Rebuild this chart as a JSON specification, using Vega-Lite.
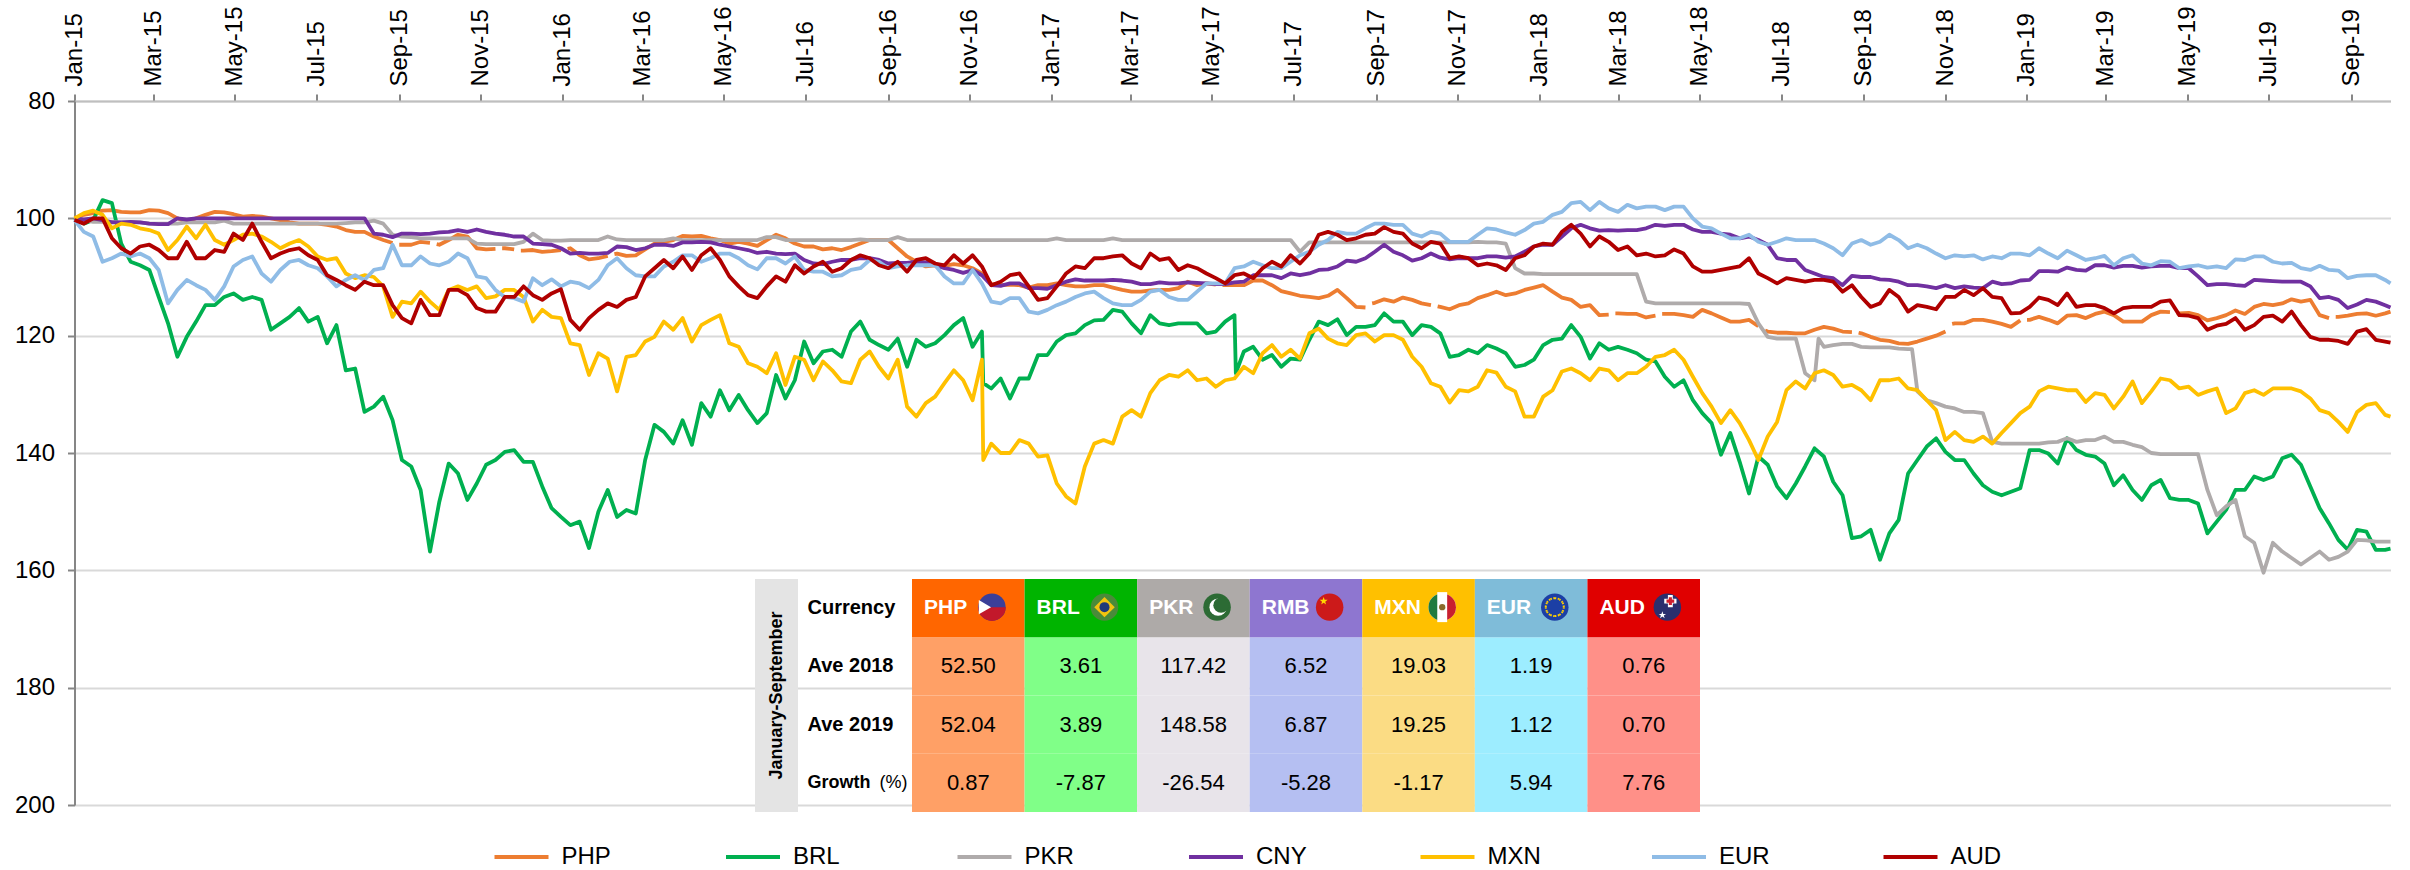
{"$schema":"https://vega.github.io/schema/vega-lite/v6.json","width":2316,"height":704,"autosize":"none","padding":{"left":74.5,"top":101,"right":19.5,"bottom":65},"background":"white","config":{"font":"Liberation Sans","view":{"stroke":null}},
"datasets":{"fx":[
{"d":"2015-01-01","PHP":100,"BRL":100,"PKR":100,"CNY":100,"MXN":100,"EUR":100.3,"AUD":100.3},
{"d":"2015-01-08","PHP":99.4,"BRL":100.9,"PKR":100.3,"CNY":100.2,"MXN":99.1,"EUR":102.3,"AUD":100.9},
{"d":"2015-01-15","PHP":99.1,"BRL":100.3,"PKR":100.6,"CNY":100,"MXN":98.7,"EUR":103.1,"AUD":100},
{"d":"2015-01-22","PHP":98.7,"BRL":96.9,"PKR":100.6,"CNY":100.3,"MXN":99.4,"EUR":107.4,"AUD":100},
{"d":"2015-01-29","PHP":98.6,"BRL":97.4,"PKR":100.6,"CNY":100.7,"MXN":101.7,"EUR":106.8,"AUD":103.4},
{"d":"2015-02-05","PHP":98.9,"BRL":104.3,"PKR":100.7,"CNY":100.7,"MXN":100.9,"EUR":106,"AUD":105.1},
{"d":"2015-02-12","PHP":99,"BRL":107.4,"PKR":100.7,"CNY":100.6,"MXN":101.1,"EUR":106.5,"AUD":106},
{"d":"2015-02-19","PHP":99,"BRL":108,"PKR":100.7,"CNY":100.7,"MXN":101.7,"EUR":106,"AUD":104.8},
{"d":"2015-02-26","PHP":98.6,"BRL":108.8,"PKR":100.9,"CNY":100.9,"MXN":102,"EUR":106.8,"AUD":104.5},
{"d":"2015-03-05","PHP":98.7,"BRL":113.4,"PKR":100.9,"CNY":101,"MXN":102.6,"EUR":108.8,"AUD":105.4},
{"d":"2015-03-12","PHP":99.1,"BRL":117.9,"PKR":100.9,"CNY":101,"MXN":105.4,"EUR":114.5,"AUD":106.8},
{"d":"2015-03-19","PHP":100,"BRL":123.6,"PKR":100.9,"CNY":100,"MXN":103.7,"EUR":112.2,"AUD":106.8},
{"d":"2015-03-26","PHP":100.6,"BRL":120.2,"PKR":100.7,"CNY":100.2,"MXN":101.4,"EUR":110.5,"AUD":104},
{"d":"2015-04-02","PHP":100,"BRL":117.6,"PKR":100.7,"CNY":100,"MXN":103.4,"EUR":111.4,"AUD":106.8},
{"d":"2015-04-09","PHP":99.4,"BRL":114.8,"PKR":100.7,"CNY":100,"MXN":101.1,"EUR":112.2,"AUD":106.8},
{"d":"2015-04-16","PHP":98.9,"BRL":114.8,"PKR":100.7,"CNY":100,"MXN":103.7,"EUR":113.9,"AUD":105.4},
{"d":"2015-04-23","PHP":99,"BRL":113.4,"PKR":100.4,"CNY":100,"MXN":104.5,"EUR":111.6,"AUD":105.7},
{"d":"2015-04-30","PHP":99.3,"BRL":112.8,"PKR":100.9,"CNY":100,"MXN":103.7,"EUR":108.2,"AUD":102.6},
{"d":"2015-05-07","PHP":99.7,"BRL":113.9,"PKR":100.9,"CNY":100,"MXN":102.8,"EUR":107.1,"AUD":103.7},
{"d":"2015-05-14","PHP":99.6,"BRL":113.4,"PKR":100.9,"CNY":100,"MXN":102.6,"EUR":106.5,"AUD":100.9},
{"d":"2015-05-21","PHP":99.7,"BRL":113.9,"PKR":100.9,"CNY":100,"MXN":103.1,"EUR":109.4,"AUD":104},
{"d":"2015-05-28","PHP":100,"BRL":119,"PKR":100.9,"CNY":100,"MXN":104,"EUR":110.8,"AUD":106.8},
{"d":"2015-06-04","PHP":100.3,"BRL":117.9,"PKR":100.9,"CNY":100,"MXN":105.1,"EUR":108.8,"AUD":106},
{"d":"2015-06-11","PHP":100.7,"BRL":116.8,"PKR":100.9,"CNY":100,"MXN":104.3,"EUR":107.4,"AUD":105.4},
{"d":"2015-06-18","PHP":100.9,"BRL":115.3,"PKR":100.9,"CNY":100,"MXN":103.7,"EUR":107.1,"AUD":105.1},
{"d":"2015-06-25","PHP":100.9,"BRL":117.6,"PKR":100.9,"CNY":100,"MXN":104.8,"EUR":108,"AUD":106.3},
{"d":"2015-07-02","PHP":100.9,"BRL":116.8,"PKR":100.9,"CNY":100,"MXN":106.5,"EUR":108.5,"AUD":107.1},
{"d":"2015-07-09","PHP":101.1,"BRL":121.3,"PKR":100.9,"CNY":100,"MXN":107.1,"EUR":109.9,"AUD":109.7},
{"d":"2015-07-16","PHP":101.4,"BRL":118.2,"PKR":100.9,"CNY":100,"MXN":106.8,"EUR":111.6,"AUD":110.5},
{"d":"2015-07-23","PHP":102,"BRL":125.9,"PKR":100.8,"CNY":100,"MXN":109.4,"EUR":110.5,"AUD":111.4},
{"d":"2015-07-30","PHP":102.3,"BRL":125.6,"PKR":100.7,"CNY":100,"MXN":110.2,"EUR":109.7,"AUD":112.2},
{"d":"2015-08-06","PHP":102.3,"BRL":133,"PKR":100.7,"CNY":100,"MXN":109.7,"EUR":110.5,"AUD":110.8},
{"d":"2015-08-13","PHP":103.1,"BRL":132.1,"PKR":100.4,"CNY":102.6,"MXN":110,"EUR":108.8,"AUD":111.4},
{"d":"2015-08-20","PHP":103.7,"BRL":130.4,"PKR":100.9,"CNY":102.8,"MXN":111.6,"EUR":108.5,"AUD":111.4},
{"d":"2015-08-27","PHP":104.2,"BRL":134.4,"PKR":102.8,"CNY":103.2,"MXN":116.8,"EUR":104.5,"AUD":114.8},
{"d":"2015-08-30","PHP":null},{"d":"2015-09-01","PHP":104.5},
{"d":"2015-09-03","PHP":104.5,"BRL":141.2,"PKR":103.1,"CNY":102.6,"MXN":114.2,"EUR":108,"AUD":117},
{"d":"2015-09-10","PHP":104.5,"BRL":142.3,"PKR":103.2,"CNY":102.6,"MXN":114.5,"EUR":108,"AUD":117.9},
{"d":"2015-09-17","PHP":104,"BRL":146.3,"PKR":103.4,"CNY":102.7,"MXN":112.5,"EUR":106.5,"AUD":113.9},
{"d":"2015-09-24","PHP":104.2,"BRL":156.8,"PKR":103.4,"CNY":102.6,"MXN":114.2,"EUR":107.7,"AUD":116.5},
{"d":"2015-09-27","PHP":null},{"d":"2015-09-29","PHP":104.4},
{"d":"2015-10-01","PHP":104.5,"BRL":148.3,"PKR":103.4,"CNY":102.4,"MXN":115.6,"EUR":108,"AUD":116.5},
{"d":"2015-10-08","PHP":103.7,"BRL":141.8,"PKR":103.4,"CNY":102.3,"MXN":112.2,"EUR":107.4,"AUD":112.2},
{"d":"2015-10-15","PHP":102.8,"BRL":143.5,"PKR":103.4,"CNY":102,"MXN":111.6,"EUR":106,"AUD":112.2},
{"d":"2015-10-22","PHP":103.1,"BRL":148,"PKR":103.4,"CNY":102.3,"MXN":112.2,"EUR":106.8,"AUD":113.1},
{"d":"2015-10-29","PHP":105.1,"BRL":145.2,"PKR":104.3,"CNY":101.9,"MXN":111.6,"EUR":109.9,"AUD":115.3},
{"d":"2015-11-05","PHP":105.3,"BRL":142,"PKR":104.4,"CNY":102.3,"MXN":113.6,"EUR":110.2,"AUD":115.9},
{"d":"2015-11-12","PHP":105.2,"BRL":141.2,"PKR":104.4,"CNY":102.6,"MXN":113.3,"EUR":112.2,"AUD":115.9},
{"d":"2015-11-15","PHP":null},{"d":"2015-11-17","PHP":105.1},
{"d":"2015-11-19","PHP":105.1,"BRL":139.8,"PKR":104.4,"CNY":102.8,"MXN":112.2,"EUR":113.4,"AUD":113.4},
{"d":"2015-11-26","PHP":105.3,"BRL":139.5,"PKR":104.4,"CNY":103.1,"MXN":112.2,"EUR":113.6,"AUD":113.4},
{"d":"2015-11-29","PHP":null},{"d":"2015-12-01","PHP":105.5},
{"d":"2015-12-03","PHP":105.5,"BRL":141.5,"PKR":104,"CNY":103.1,"MXN":113.4,"EUR":114.2,"AUD":111.6},
{"d":"2015-12-10","PHP":105.4,"BRL":141.5,"PKR":102.6,"CNY":104.3,"MXN":117.6,"EUR":110.2,"AUD":113.1},
{"d":"2015-12-17","PHP":105.7,"BRL":145.7,"PKR":103.7,"CNY":104.4,"MXN":115.6,"EUR":111.4,"AUD":113.9},
{"d":"2015-12-24","PHP":105.6,"BRL":149.4,"PKR":103.8,"CNY":104.5,"MXN":116.8,"EUR":110.4,"AUD":112.8},
{"d":"2015-12-31","PHP":105.4,"BRL":150.9,"PKR":103.8,"CNY":105.1,"MXN":117,"EUR":111.6,"AUD":112.1},
{"d":"2016-01-03","PHP":null},{"d":"2016-01-05","PHP":105.2},
{"d":"2016-01-07","PHP":105.1,"BRL":152.3,"PKR":103.7,"CNY":106,"MXN":121.3,"EUR":110.8,"AUD":117.3},
{"d":"2016-01-14","PHP":106.3,"BRL":151.7,"PKR":103.7,"CNY":105.9,"MXN":121.6,"EUR":111.1,"AUD":119},
{"d":"2016-01-21","PHP":107,"BRL":156.2,"PKR":103.7,"CNY":106,"MXN":126.7,"EUR":111.9,"AUD":117},
{"d":"2016-01-28","PHP":106.8,"BRL":150,"PKR":103.7,"CNY":106,"MXN":123,"EUR":110.5,"AUD":115.6},
{"d":"2016-02-04","PHP":106.4,"BRL":146.3,"PKR":103.1,"CNY":105.9,"MXN":123.9,"EUR":108,"AUD":114.5},
{"d":"2016-02-07","PHP":null},{"d":"2016-02-09","PHP":106.1},
{"d":"2016-02-11","PHP":106,"BRL":150.9,"PKR":103.6,"CNY":104.8,"MXN":129.5,"EUR":106.8,"AUD":115.1},
{"d":"2016-02-18","PHP":106.4,"BRL":149.7,"PKR":103.7,"CNY":104.9,"MXN":123.6,"EUR":108.5,"AUD":113.9},
{"d":"2016-02-25","PHP":106.3,"BRL":150.3,"PKR":103.7,"CNY":105.4,"MXN":123.3,"EUR":109.7,"AUD":113.4},
{"d":"2016-03-03","PHP":105.3,"BRL":141.2,"PKR":103.7,"CNY":105.1,"MXN":121,"EUR":109.9,"AUD":109.9},
{"d":"2016-03-10","PHP":104.3,"BRL":135.2,"PKR":103.7,"CNY":104.5,"MXN":120.2,"EUR":109.9,"AUD":108.5},
{"d":"2016-03-17","PHP":104,"BRL":136.4,"PKR":103.7,"CNY":104.5,"MXN":117.6,"EUR":108.2,"AUD":107.1},
{"d":"2016-03-24","PHP":103.7,"BRL":138.4,"PKR":103.4,"CNY":104.7,"MXN":119,"EUR":107.4,"AUD":108.5},
{"d":"2016-03-31","PHP":103,"BRL":134.4,"PKR":103.7,"CNY":104.1,"MXN":117,"EUR":106.3,"AUD":106.5},
{"d":"2016-04-07","PHP":103.1,"BRL":138.6,"PKR":103.7,"CNY":104.1,"MXN":121,"EUR":106.3,"AUD":108.8},
{"d":"2016-04-14","PHP":103,"BRL":131.5,"PKR":103.7,"CNY":104,"MXN":118.2,"EUR":107.4,"AUD":106.3},
{"d":"2016-04-21","PHP":103.4,"BRL":133.8,"PKR":103.7,"CNY":104.1,"MXN":117.3,"EUR":106.8,"AUD":105.1},
{"d":"2016-04-28","PHP":103.7,"BRL":129.3,"PKR":103.7,"CNY":104.5,"MXN":116.5,"EUR":106,"AUD":107.1},
{"d":"2016-05-05","PHP":104.3,"BRL":132.7,"PKR":103.7,"CNY":104.8,"MXN":121.3,"EUR":106,"AUD":109.9},
{"d":"2016-05-12","PHP":104,"BRL":130.1,"PKR":103.7,"CNY":105.1,"MXN":121.9,"EUR":106.8,"AUD":111.6},
{"d":"2016-05-19","PHP":104.3,"BRL":132.7,"PKR":103.7,"CNY":105.4,"MXN":124.7,"EUR":108,"AUD":113.1},
{"d":"2016-05-26","PHP":104.7,"BRL":134.9,"PKR":103.7,"CNY":105.9,"MXN":125.3,"EUR":108.7,"AUD":113.6},
{"d":"2016-06-02","PHP":103.7,"BRL":133.2,"PKR":103.2,"CNY":105.7,"MXN":126.4,"EUR":106.8,"AUD":111.6},
{"d":"2016-06-09","PHP":102.8,"BRL":126.7,"PKR":103.2,"CNY":106,"MXN":123,"EUR":106.8,"AUD":109.9},
{"d":"2016-06-16","PHP":103.4,"BRL":130.7,"PKR":103.7,"CNY":106.1,"MXN":128.4,"EUR":107.7,"AUD":110.8},
{"d":"2016-06-23","PHP":104.3,"BRL":127.6,"PKR":103.7,"CNY":106,"MXN":123.6,"EUR":106.5,"AUD":108},
{"d":"2016-06-30","PHP":104.8,"BRL":121,"PKR":103.7,"CNY":107.1,"MXN":124.1,"EUR":108.8,"AUD":109.4},
{"d":"2016-07-07","PHP":104.8,"BRL":124.7,"PKR":103.7,"CNY":107.7,"MXN":127.6,"EUR":109.1,"AUD":108.2},
{"d":"2016-07-14","PHP":105.3,"BRL":122.7,"PKR":103.7,"CNY":107.8,"MXN":124.4,"EUR":109.1,"AUD":107.4},
{"d":"2016-07-21","PHP":105.1,"BRL":122.4,"PKR":103.7,"CNY":107.4,"MXN":125.9,"EUR":109.9,"AUD":109.1},
{"d":"2016-07-28","PHP":105.4,"BRL":123.6,"PKR":103.7,"CNY":107.1,"MXN":127.8,"EUR":109.7,"AUD":108.5},
{"d":"2016-08-04","PHP":104.9,"BRL":119.3,"PKR":103.7,"CNY":107.1,"MXN":128.1,"EUR":108.8,"AUD":107.1},
{"d":"2016-08-11","PHP":104.3,"BRL":117.6,"PKR":103.6,"CNY":106.8,"MXN":124.1,"EUR":108.5,"AUD":106.3},
{"d":"2016-08-18","PHP":103.7,"BRL":120.7,"PKR":103.7,"CNY":106.8,"MXN":122.7,"EUR":107.1,"AUD":106.8},
{"d":"2016-08-25","PHP":103.7,"BRL":121.6,"PKR":103.7,"CNY":107.1,"MXN":125.3,"EUR":107.4,"AUD":108},
{"d":"2016-09-01","PHP":103.7,"BRL":122.4,"PKR":103.7,"CNY":107.7,"MXN":127.3,"EUR":108.5,"AUD":108.5},
{"d":"2016-09-08","PHP":105.1,"BRL":120.5,"PKR":103.2,"CNY":107.6,"MXN":124.1,"EUR":108.2,"AUD":107.4},
{"d":"2016-09-15","PHP":106.5,"BRL":125.3,"PKR":103.7,"CNY":107.6,"MXN":132.1,"EUR":108,"AUD":109.1},
{"d":"2016-09-22","PHP":107.4,"BRL":120.7,"PKR":103.7,"CNY":107.4,"MXN":133.8,"EUR":108,"AUD":107.1},
{"d":"2016-09-29","PHP":108.2,"BRL":121.9,"PKR":103.7,"CNY":107.5,"MXN":131.5,"EUR":108,"AUD":106.8},
{"d":"2016-10-06","PHP":108,"BRL":121.3,"PKR":103.7,"CNY":108,"MXN":130.4,"EUR":108,"AUD":107.7},
{"d":"2016-10-13","PHP":108.1,"BRL":119.9,"PKR":103.7,"CNY":108.5,"MXN":128.1,"EUR":109.9,"AUD":108},
{"d":"2016-10-20","PHP":107.8,"BRL":118.2,"PKR":103.7,"CNY":108.8,"MXN":125.9,"EUR":111.1,"AUD":106.3},
{"d":"2016-10-27","PHP":108,"BRL":117,"PKR":103.7,"CNY":109.3,"MXN":127.6,"EUR":111.1,"AUD":107.7},
{"d":"2016-11-03","PHP":108.5,"BRL":121.9,"PKR":103.7,"CNY":108.8,"MXN":131,"EUR":108.8,"AUD":106.3},
{"d":"2016-11-10","PHP":109.4,"BRL":119.3,"PKR":103.7,"CNY":109.7,"MXN":124.1,"EUR":111.1,"AUD":108.2},
{"d":"2016-11-11","BRL":128.1,"MXN":141.2},
{"d":"2016-11-17","PHP":111.2,"BRL":129,"PKR":103.7,"CNY":111.4,"MXN":138.4,"EUR":114.2,"AUD":111.4},
{"d":"2016-11-24","PHP":111.4,"BRL":127.3,"PKR":103.7,"CNY":111.5,"MXN":140,"EUR":114.5,"AUD":110.8},
{"d":"2016-12-01","PHP":111.3,"BRL":130.7,"PKR":103.7,"CNY":111.1,"MXN":140,"EUR":113.6,"AUD":109.7},
{"d":"2016-12-08","PHP":111.4,"BRL":127.3,"PKR":103.7,"CNY":111.1,"MXN":137.8,"EUR":113.6,"AUD":109.4},
{"d":"2016-12-15","PHP":111.8,"BRL":127.3,"PKR":103.7,"CNY":111.9,"MXN":138.4,"EUR":115.9,"AUD":111.6},
{"d":"2016-12-22","PHP":111.4,"BRL":123.3,"PKR":103.7,"CNY":111.9,"MXN":140.6,"EUR":116.2,"AUD":113.9},
{"d":"2016-12-29","PHP":111.4,"BRL":123.3,"PKR":103.7,"CNY":112,"MXN":140.4,"EUR":115.6,"AUD":113.6},
{"d":"2017-01-05","PHP":111.1,"BRL":121,"PKR":103.4,"CNY":111.4,"MXN":145.2,"EUR":114.8,"AUD":111.6},
{"d":"2017-01-12","PHP":111.4,"BRL":119.9,"PKR":103.7,"CNY":110.8,"MXN":147.4,"EUR":114.2,"AUD":109.4},
{"d":"2017-01-19","PHP":111.6,"BRL":119.6,"PKR":103.7,"CNY":110.4,"MXN":148.6,"EUR":113.4,"AUD":108.2},
{"d":"2017-01-26","PHP":111.6,"BRL":118.2,"PKR":103.7,"CNY":110.6,"MXN":142.3,"EUR":112.8,"AUD":108.5},
{"d":"2017-02-02","PHP":111.4,"BRL":117.4,"PKR":103.7,"CNY":110.6,"MXN":138.4,"EUR":112.5,"AUD":106.8},
{"d":"2017-02-09","PHP":111.4,"BRL":117.3,"PKR":103.7,"CNY":110.6,"MXN":137.8,"EUR":113.6,"AUD":106.8},
{"d":"2017-02-16","PHP":111.8,"BRL":115.6,"PKR":103.4,"CNY":110.5,"MXN":138.4,"EUR":114.5,"AUD":106.5},
{"d":"2017-02-23","PHP":112.2,"BRL":115.9,"PKR":103.7,"CNY":110.6,"MXN":133.8,"EUR":114.8,"AUD":106.3},
{"d":"2017-03-02","PHP":112.5,"BRL":117.9,"PKR":103.7,"CNY":110.8,"MXN":132.7,"EUR":114.8,"AUD":107.7},
{"d":"2017-03-09","PHP":112.5,"BRL":119.6,"PKR":103.7,"CNY":111.2,"MXN":133.8,"EUR":113.9,"AUD":108.5},
{"d":"2017-03-16","PHP":112.3,"BRL":116.5,"PKR":103.7,"CNY":111.2,"MXN":129.8,"EUR":112.5,"AUD":106},
{"d":"2017-03-23","PHP":112.2,"BRL":117.9,"PKR":103.7,"CNY":110.9,"MXN":127.6,"EUR":112.2,"AUD":107.1},
{"d":"2017-03-30","PHP":112.2,"BRL":118.2,"PKR":103.7,"CNY":111.1,"MXN":126.7,"EUR":113.4,"AUD":106.8},
{"d":"2017-04-06","PHP":111.9,"BRL":117.9,"PKR":103.7,"CNY":111.1,"MXN":127,"EUR":113.9,"AUD":108.8},
{"d":"2017-04-13","PHP":110.8,"BRL":117.9,"PKR":103.7,"CNY":110.9,"MXN":125.9,"EUR":113.9,"AUD":108},
{"d":"2017-04-20","PHP":111.4,"BRL":117.9,"PKR":103.7,"CNY":111,"MXN":127.6,"EUR":112.5,"AUD":108.5},
{"d":"2017-04-27","PHP":111.1,"BRL":119.6,"PKR":103.7,"CNY":111.1,"MXN":127.3,"EUR":111.1,"AUD":109.4},
{"d":"2017-05-04","PHP":111.3,"BRL":119.3,"PKR":103.7,"CNY":111.2,"MXN":128.7,"EUR":111.1,"AUD":110.2},
{"d":"2017-05-07","PHP":null},{"d":"2017-05-09","PHP":111.4},
{"d":"2017-05-11","PHP":111.4,"BRL":117.6,"PKR":103.7,"CNY":111.2,"MXN":127.6,"EUR":111.1,"AUD":111.1},
{"d":"2017-05-18","PHP":111.4,"BRL":116.5,"PKR":103.7,"CNY":110.9,"MXN":127.3,"EUR":108.5,"AUD":109.7},
{"d":"2017-05-19","BRL":126.4},
{"d":"2017-05-25","PHP":111.4,"BRL":122.7,"PKR":103.7,"CNY":110.8,"MXN":125.3,"EUR":108.2,"AUD":109.4},
{"d":"2017-06-01","PHP":110.6,"BRL":121.9,"PKR":103.7,"CNY":109.7,"MXN":126.4,"EUR":107.4,"AUD":110.2},
{"d":"2017-06-08","PHP":110.6,"BRL":124.1,"PKR":103.7,"CNY":109.7,"MXN":123,"EUR":108,"AUD":108.5},
{"d":"2017-06-15","PHP":111.4,"BRL":123.3,"PKR":103.7,"CNY":109.7,"MXN":121.6,"EUR":108.5,"AUD":107.4},
{"d":"2017-06-22","PHP":112.4,"BRL":125.3,"PKR":103.7,"CNY":110.2,"MXN":123.6,"EUR":108.5,"AUD":108.2},
{"d":"2017-06-29","PHP":112.8,"BRL":123.9,"PKR":103.7,"CNY":109.4,"MXN":122.4,"EUR":107.4,"AUD":106.3},
{"d":"2017-07-06","PHP":113.2,"BRL":124.1,"PKR":105.7,"CNY":109.7,"MXN":123.9,"EUR":106.3,"AUD":107.7},
{"d":"2017-07-13","PHP":113.4,"BRL":120.7,"PKR":104.1,"CNY":109.4,"MXN":119.6,"EUR":105.7,"AUD":106},
{"d":"2017-07-20","PHP":113.6,"BRL":117.6,"PKR":104.1,"CNY":108.8,"MXN":118.8,"EUR":104.5,"AUD":102.8},
{"d":"2017-07-27","PHP":113.2,"BRL":118.2,"PKR":104.1,"CNY":108.7,"MXN":120.5,"EUR":103.7,"AUD":102.3},
{"d":"2017-08-03","PHP":112.2,"BRL":117.2,"PKR":104.1,"CNY":108.2,"MXN":121.3,"EUR":102.3,"AUD":102.8},
{"d":"2017-08-10","PHP":113.6,"BRL":119.9,"PKR":104.1,"CNY":107.2,"MXN":121.6,"EUR":102.6,"AUD":103.7},
{"d":"2017-08-17","PHP":115.1,"BRL":118.5,"PKR":104.1,"CNY":107.4,"MXN":119.9,"EUR":102.6,"AUD":103.4},
{"d":"2017-08-24","PHP":115.2,"BRL":118.5,"PKR":104.1,"CNY":106.8,"MXN":119.6,"EUR":101.7,"AUD":102.8},
{"d":"2017-08-27","PHP":null},{"d":"2017-08-29","PHP":114.5},
{"d":"2017-08-31","PHP":114.4,"BRL":118.2,"PKR":104.1,"CNY":105.7,"MXN":121,"EUR":100.9,"AUD":102.6},
{"d":"2017-09-07","PHP":113.8,"BRL":116.2,"PKR":104.1,"CNY":104.5,"MXN":119.9,"EUR":100.9,"AUD":101.5},
{"d":"2017-09-14","PHP":114.2,"BRL":117.6,"PKR":104.1,"CNY":105.7,"MXN":119.9,"EUR":101.1,"AUD":102.3},
{"d":"2017-09-21","PHP":113.5,"BRL":117.6,"PKR":104.1,"CNY":106.3,"MXN":120.7,"EUR":101.1,"AUD":102.6},
{"d":"2017-09-28","PHP":113.9,"BRL":119.9,"PKR":104.1,"CNY":107.2,"MXN":123.6,"EUR":102.6,"AUD":104.3},
{"d":"2017-10-05","PHP":114.5,"BRL":118.2,"PKR":104.1,"CNY":106.8,"MXN":125.3,"EUR":103.1,"AUD":105.1},
{"d":"2017-10-12","PHP":114.8,"BRL":118.5,"PKR":104.1,"CNY":106,"MXN":128.1,"EUR":102.3,"AUD":104},
{"d":"2017-10-15","PHP":null},{"d":"2017-10-17","PHP":115},
{"d":"2017-10-19","PHP":115.1,"BRL":119.6,"PKR":104.1,"CNY":106.7,"MXN":128.7,"EUR":102.6,"AUD":104.3},
{"d":"2017-10-26","PHP":115.5,"BRL":123.6,"PKR":104.1,"CNY":107,"MXN":131.4,"EUR":104,"AUD":106.8},
{"d":"2017-11-02","PHP":114.8,"BRL":123.3,"PKR":104.1,"CNY":106.8,"MXN":129.3,"EUR":104,"AUD":106.5},
{"d":"2017-11-09","PHP":114.5,"BRL":122.4,"PKR":104.1,"CNY":106.8,"MXN":129.5,"EUR":104,"AUD":106.8},
{"d":"2017-11-16","PHP":113.6,"BRL":123,"PKR":104,"CNY":106.8,"MXN":128.7,"EUR":102.8,"AUD":108},
{"d":"2017-11-23","PHP":113.1,"BRL":121.6,"PKR":104.1,"CNY":106.5,"MXN":125.9,"EUR":101.7,"AUD":107.7},
{"d":"2017-11-30","PHP":112.5,"BRL":122.2,"PKR":104.1,"CNY":106.5,"MXN":126.3,"EUR":101.9,"AUD":108},
{"d":"2017-12-07","PHP":113.1,"BRL":123,"PKR":104.3,"CNY":106.7,"MXN":128.7,"EUR":102.4,"AUD":108.8},
{"d":"2017-12-14","PHP":112.8,"BRL":125.3,"PKR":108.5,"CNY":106.5,"MXN":129.5,"EUR":102.8,"AUD":106.8},
{"d":"2017-12-21","PHP":112.2,"BRL":125,"PKR":109.4,"CNY":105.7,"MXN":133.8,"EUR":102,"AUD":106.3},
{"d":"2017-12-28","PHP":111.8,"BRL":124.1,"PKR":109.4,"CNY":104.8,"MXN":133.8,"EUR":100.9,"AUD":104.8},
{"d":"2018-01-04","PHP":111.4,"BRL":121.6,"PKR":109.5,"CNY":104.5,"MXN":130.4,"EUR":100.6,"AUD":104.3},
{"d":"2018-01-11","PHP":112.5,"BRL":120.7,"PKR":109.5,"CNY":104.5,"MXN":129.3,"EUR":99.4,"AUD":104.5},
{"d":"2018-01-18","PHP":113.5,"BRL":120.5,"PKR":109.5,"CNY":103.1,"MXN":126.1,"EUR":98.9,"AUD":102.3},
{"d":"2018-01-25","PHP":113.9,"BRL":118.2,"PKR":109.5,"CNY":101.7,"MXN":125.6,"EUR":97.4,"AUD":101.1},
{"d":"2018-02-01","PHP":115.1,"BRL":120.2,"PKR":109.5,"CNY":101.1,"MXN":126.4,"EUR":97.2,"AUD":102.6},
{"d":"2018-02-08","PHP":114.8,"BRL":123.9,"PKR":109.5,"CNY":101.7,"MXN":127.6,"EUR":98.6,"AUD":104.8},
{"d":"2018-02-15","PHP":116.5,"BRL":121.3,"PKR":109.5,"CNY":102.1,"MXN":125.6,"EUR":97.2,"AUD":103.1},
{"d":"2018-02-22","PHP":116.4,"BRL":122.4,"PKR":109.5,"CNY":102,"MXN":125.9,"EUR":98.3,"AUD":104},
{"d":"2018-02-25","PHP":null},{"d":"2018-02-27","PHP":116.2},
{"d":"2018-03-01","PHP":116.2,"BRL":121.9,"PKR":109.5,"CNY":102.1,"MXN":127.6,"EUR":98.9,"AUD":105.4},
{"d":"2018-03-08","PHP":116.3,"BRL":122.4,"PKR":109.5,"CNY":102,"MXN":126.4,"EUR":97.7,"AUD":104.8},
{"d":"2018-03-15","PHP":116.3,"BRL":123,"PKR":109.5,"CNY":102,"MXN":126.4,"EUR":98.3,"AUD":106.3},
{"d":"2018-03-22","PHP":116.9,"BRL":124.1,"PKR":114.2,"CNY":101.7,"MXN":125.3,"EUR":98,"AUD":106},
{"d":"2018-03-29","PHP":116.6,"BRL":124.4,"PKR":114.5,"CNY":101.1,"MXN":123.6,"EUR":98,"AUD":106.5},
{"d":"2018-04-01","PHP":null},{"d":"2018-04-03","PHP":116.3},
{"d":"2018-04-05","PHP":116.3,"BRL":127,"PKR":114.5,"CNY":101.3,"MXN":123.3,"EUR":98.6,"AUD":106.3},
{"d":"2018-04-12","PHP":116.3,"BRL":128.7,"PKR":114.5,"CNY":101.1,"MXN":122.4,"EUR":98,"AUD":105.3},
{"d":"2018-04-19","PHP":116.5,"BRL":127.6,"PKR":114.5,"CNY":101.1,"MXN":124.1,"EUR":98,"AUD":106},
{"d":"2018-04-26","PHP":116.8,"BRL":131,"PKR":114.5,"CNY":101.9,"MXN":127,"EUR":100,"AUD":108.2},
{"d":"2018-05-03","PHP":115.6,"BRL":133.2,"PKR":114.5,"CNY":102.3,"MXN":129.8,"EUR":101.4,"AUD":109.1},
{"d":"2018-05-10","PHP":116.2,"BRL":134.9,"PKR":114.5,"CNY":102.3,"MXN":132.1,"EUR":101.7,"AUD":109.1},
{"d":"2018-05-17","PHP":116.9,"BRL":140.3,"PKR":114.5,"CNY":102.6,"MXN":134.9,"EUR":102.6,"AUD":108.8},
{"d":"2018-05-24","PHP":117.6,"BRL":136.6,"PKR":114.5,"CNY":102.8,"MXN":132.7,"EUR":103.4,"AUD":108.5},
{"d":"2018-05-31","PHP":117.6,"BRL":141.5,"PKR":114.5,"CNY":103.4,"MXN":134.9,"EUR":103.4,"AUD":108.2},
{"d":"2018-06-07","PHP":117.3,"BRL":146.9,"PKR":114.6,"CNY":103.1,"MXN":137.8,"EUR":102.8,"AUD":106.8},
{"d":"2018-06-14","PHP":118.4,"BRL":140.6,"PKR":117.9,"CNY":103.7,"MXN":141.2,"EUR":104,"AUD":109.4},
{"d":"2018-06-17","PHP":null},{"d":"2018-06-19","PHP":119.1},
{"d":"2018-06-21","PHP":119.3,"BRL":142,"PKR":120.2,"CNY":104.5,"MXN":137.2,"EUR":104.5,"AUD":110.2},
{"d":"2018-06-28","PHP":119.5,"BRL":145.7,"PKR":120.5,"CNY":106.8,"MXN":134.7,"EUR":104,"AUD":111.1},
{"d":"2018-07-05","PHP":119.5,"BRL":147.7,"PKR":120.5,"CNY":107.1,"MXN":129.3,"EUR":103.4,"AUD":110.2},
{"d":"2018-07-12","PHP":119.6,"BRL":145.2,"PKR":120.5,"CNY":107.1,"MXN":127.8,"EUR":103.7,"AUD":110.5},
{"d":"2018-07-19","PHP":119.6,"BRL":142.3,"PKR":126.4,"CNY":108.8,"MXN":129,"EUR":103.7,"AUD":110.8},
{"d":"2018-07-26","PHP":119,"BRL":139.2,"PKR":127.6,"CNY":109.4,"MXN":126.4,"EUR":103.7,"AUD":110.5},
{"d":"2018-07-29","PKR":120.5},
{"d":"2018-08-02","PHP":118.5,"BRL":140.6,"PKR":121.9,"CNY":110,"MXN":125.9,"EUR":104.3,"AUD":110.5},
{"d":"2018-08-09","PHP":118.8,"BRL":144.9,"PKR":121.6,"CNY":110.2,"MXN":126.7,"EUR":105.1,"AUD":110.8},
{"d":"2018-08-16","PHP":119.3,"BRL":147.2,"PKR":121.4,"CNY":111.4,"MXN":128.7,"EUR":106.3,"AUD":112.5},
{"d":"2018-08-23","PHP":119.4,"BRL":154.5,"PKR":121.4,"CNY":109.8,"MXN":128.4,"EUR":104.3,"AUD":111.4},
{"d":"2018-08-26","PHP":null},{"d":"2018-08-28","PHP":119.5},
{"d":"2018-08-30","PHP":119.6,"BRL":154.2,"PKR":121.9,"CNY":110,"MXN":129.3,"EUR":103.7,"AUD":113.4},
{"d":"2018-09-06","PHP":120.2,"BRL":153.1,"PKR":122,"CNY":110,"MXN":131,"EUR":104.5,"AUD":115.1},
{"d":"2018-09-13","PHP":120.7,"BRL":158.2,"PKR":122,"CNY":110.4,"MXN":127.6,"EUR":104,"AUD":114.5},
{"d":"2018-09-20","PHP":120.9,"BRL":153.7,"PKR":122,"CNY":110.5,"MXN":127.6,"EUR":102.8,"AUD":112.2},
{"d":"2018-09-27","PHP":121.3,"BRL":151.4,"PKR":122.2,"CNY":110.8,"MXN":127.3,"EUR":103.7,"AUD":113.4},
{"d":"2018-10-04","PHP":121.4,"BRL":143.5,"PKR":122.3,"CNY":111.4,"MXN":129,"EUR":105.1,"AUD":115.9},
{"d":"2018-10-07","PKR":122.3},
{"d":"2018-10-11","PHP":121,"BRL":141.2,"PKR":129.5,"CNY":111.4,"MXN":129.3,"EUR":104.5,"AUD":114.8},
{"d":"2018-10-18","PHP":120.5,"BRL":138.9,"PKR":131,"CNY":111.6,"MXN":131,"EUR":105.1,"AUD":115.1},
{"d":"2018-10-25","PHP":120,"BRL":137.5,"PKR":131.5,"CNY":111.9,"MXN":132.7,"EUR":106,"AUD":115.5},
{"d":"2018-11-01","PHP":119.3,"BRL":139.8,"PKR":132.1,"CNY":111.4,"MXN":137.8,"EUR":106.8,"AUD":113.4},
{"d":"2018-11-04","PHP":null},{"d":"2018-11-06","PHP":118},
{"d":"2018-11-08","PHP":117.9,"BRL":141.2,"PKR":132.4,"CNY":111.9,"MXN":136.4,"EUR":106.3,"AUD":113.4},
{"d":"2018-11-15","PHP":117.9,"BRL":141.2,"PKR":133,"CNY":111.6,"MXN":137.8,"EUR":106.5,"AUD":112.2},
{"d":"2018-11-22","PHP":117.3,"BRL":143.5,"PKR":133,"CNY":111.8,"MXN":138.1,"EUR":106.3,"AUD":113.1},
{"d":"2018-11-29","PHP":117.3,"BRL":145.5,"PKR":133.2,"CNY":111.9,"MXN":137.2,"EUR":107,"AUD":111.9},
{"d":"2018-12-06","PHP":117.6,"BRL":146.6,"PKR":138.1,"CNY":110.8,"MXN":138.4,"EUR":106.5,"AUD":113.4},
{"d":"2018-12-13","PHP":118,"BRL":147.2,"PKR":138.4,"CNY":111.2,"MXN":136.6,"EUR":106.8,"AUD":113.6},
{"d":"2018-12-20","PHP":118.5,"BRL":146.6,"PKR":138.4,"CNY":111.1,"MXN":134.9,"EUR":106,"AUD":116.2},
{"d":"2018-12-27","PHP":117.4,"BRL":146,"PKR":138.4,"CNY":110.6,"MXN":133.2,"EUR":106,"AUD":116.1},
{"d":"2018-12-30","PHP":null},{"d":"2019-01-01","PHP":117.3},
{"d":"2019-01-03","PHP":117.3,"BRL":139.5,"PKR":138.4,"CNY":110.5,"MXN":132.1,"EUR":106.3,"AUD":115.1},
{"d":"2019-01-10","PHP":116.8,"BRL":139.5,"PKR":138.4,"CNY":109,"MXN":129.5,"EUR":105.1,"AUD":113.5},
{"d":"2019-01-17","PHP":117.3,"BRL":140.1,"PKR":138.2,"CNY":109,"MXN":128.7,"EUR":106,"AUD":113.9},
{"d":"2019-01-24","PHP":117.9,"BRL":141.8,"PKR":138.1,"CNY":109.1,"MXN":129,"EUR":106.8,"AUD":114.8},
{"d":"2019-01-31","PHP":116.6,"BRL":137.5,"PKR":137.5,"CNY":108.4,"MXN":129.3,"EUR":105.5,"AUD":112.8},
{"d":"2019-02-07","PHP":116.5,"BRL":139.5,"PKR":138.1,"CNY":108.8,"MXN":129.3,"EUR":106.3,"AUD":115.1},
{"d":"2019-02-14","PHP":117,"BRL":140.3,"PKR":137.8,"CNY":108.9,"MXN":131.3,"EUR":107.1,"AUD":114.8},
{"d":"2019-02-21","PHP":116.3,"BRL":140.6,"PKR":137.8,"CNY":108,"MXN":129.8,"EUR":106.8,"AUD":114.8},
{"d":"2019-02-28","PHP":115.9,"BRL":141.8,"PKR":137.2,"CNY":108,"MXN":130.1,"EUR":106.4,"AUD":115.3},
{"d":"2019-03-07","PHP":116.5,"BRL":145.5,"PKR":138.1,"CNY":108.4,"MXN":132.4,"EUR":108,"AUD":116.2},
{"d":"2019-03-14","PHP":117.6,"BRL":143.8,"PKR":138.1,"CNY":108.1,"MXN":130.4,"EUR":106.8,"AUD":115.3},
{"d":"2019-03-21","PHP":117.6,"BRL":146.3,"PKR":138.6,"CNY":108.1,"MXN":127.8,"EUR":106.3,"AUD":115.1},
{"d":"2019-03-28","PHP":117.6,"BRL":148,"PKR":139,"CNY":108.4,"MXN":131.5,"EUR":107.7,"AUD":115.1},
{"d":"2019-04-04","PHP":116.5,"BRL":145.5,"PKR":140,"CNY":108.2,"MXN":129.5,"EUR":108,"AUD":115.1},
{"d":"2019-04-11","PHP":115.9,"BRL":144.6,"PKR":140.2,"CNY":108.1,"MXN":127.3,"EUR":107.3,"AUD":114.2},
{"d":"2019-04-18","PHP":116,"BRL":147.7,"PKR":140.2,"CNY":108.1,"MXN":127.6,"EUR":107.4,"AUD":114},
{"d":"2019-04-21","PHP":null},{"d":"2019-04-23","PHP":116.2},
{"d":"2019-04-25","PHP":116.2,"BRL":148,"PKR":140.2,"CNY":108.5,"MXN":129,"EUR":108.5,"AUD":116.5},
{"d":"2019-05-02","PHP":116.1,"BRL":148,"PKR":140.2,"CNY":108.5,"MXN":128.7,"EUR":108.2,"AUD":116.6},
{"d":"2019-05-09","PHP":116.5,"BRL":148.6,"PKR":140.2,"CNY":109.9,"MXN":130.1,"EUR":108,"AUD":117},
{"d":"2019-05-16","PHP":117.4,"BRL":153.7,"PKR":146.3,"CNY":111.4,"MXN":129.5,"EUR":108.4,"AUD":119},
{"d":"2019-05-23","PHP":117,"BRL":151.7,"PKR":150.6,"CNY":111.2,"MXN":129,"EUR":108.2,"AUD":118.3},
{"d":"2019-05-30","PHP":116.5,"BRL":149.7,"PKR":149.1,"CNY":111.2,"MXN":133.2,"EUR":108.5,"AUD":118},
{"d":"2019-06-06","PHP":115.7,"BRL":146.3,"PKR":148,"CNY":111.4,"MXN":132.4,"EUR":107,"AUD":117},
{"d":"2019-06-13","PHP":116.3,"BRL":146.3,"PKR":154.2,"CNY":111.5,"MXN":129.8,"EUR":107.1,"AUD":119},
{"d":"2019-06-20","PHP":115.1,"BRL":144,"PKR":155.3,"CNY":110.5,"MXN":129.3,"EUR":106.5,"AUD":118.2},
{"d":"2019-06-27","PHP":114.6,"BRL":144.6,"PKR":160.4,"CNY":110.6,"MXN":130.1,"EUR":106.5,"AUD":116.8},
{"d":"2019-07-04","PHP":114.8,"BRL":144,"PKR":155.3,"CNY":110.7,"MXN":129,"EUR":107.4,"AUD":116.6},
{"d":"2019-07-11","PHP":114.5,"BRL":140.9,"PKR":156.8,"CNY":110.8,"MXN":129,"EUR":107.7,"AUD":117.6},
{"d":"2019-07-18","PHP":113.8,"BRL":140.3,"PKR":157.9,"CNY":110.8,"MXN":129,"EUR":107.6,"AUD":115.9},
{"d":"2019-07-25","PHP":114.2,"BRL":142,"PKR":159,"CNY":110.8,"MXN":129.5,"EUR":108.5,"AUD":118.2},
{"d":"2019-08-01","PHP":113.9,"BRL":145.7,"PKR":157.9,"CNY":111.6,"MXN":130.7,"EUR":108.8,"AUD":120.2},
{"d":"2019-08-08","PHP":116.5,"BRL":149.4,"PKR":156.8,"CNY":113.6,"MXN":132.7,"EUR":108.1,"AUD":120.7},
{"d":"2019-08-15","PHP":117,"BRL":152,"PKR":158.2,"CNY":113.4,"MXN":133.2,"EUR":108.8,"AUD":120.7},
{"d":"2019-08-18","PHP":null},{"d":"2019-08-20","PHP":116.8},
{"d":"2019-08-22","PHP":116.8,"BRL":154.8,"PKR":157.7,"CNY":113.9,"MXN":134.7,"EUR":108.9,"AUD":120.9},
{"d":"2019-08-29","PHP":116.6,"BRL":156.5,"PKR":156.8,"CNY":115.3,"MXN":136.4,"EUR":110.2,"AUD":121.4},
{"d":"2019-09-05","PHP":116.3,"BRL":153.1,"PKR":154.8,"CNY":114.7,"MXN":133,"EUR":109.8,"AUD":119.3},
{"d":"2019-09-12","PHP":116.2,"BRL":153.4,"PKR":154.9,"CNY":113.9,"MXN":131.8,"EUR":109.7,"AUD":118.9},
{"d":"2019-09-19","PHP":116.6,"BRL":156.5,"PKR":155.1,"CNY":114.2,"MXN":131.5,"EUR":109.7,"AUD":120.7},
{"d":"2019-09-26","PHP":116.2,"BRL":156.5,"PKR":155.1,"CNY":114.8,"MXN":133.5,"EUR":110.5,"AUD":121},
{"d":"2019-09-30","PHP":115.9,"BRL":156.3,"PKR":155.1,"CNY":115.2,"MXN":133.8,"EUR":111.1,"AUD":121.2}
],
"cells":[
{"column":"PHP","row":"Ave 2018","text":"52.50"},{"column":"BRL","row":"Ave 2018","text":"3.61"},{"column":"PKR","row":"Ave 2018","text":"117.42"},{"column":"RMB","row":"Ave 2018","text":"6.52"},{"column":"MXN","row":"Ave 2018","text":"19.03"},{"column":"EUR","row":"Ave 2018","text":"1.19"},{"column":"AUD","row":"Ave 2018","text":"0.76"},
{"column":"PHP","row":"Ave 2019","text":"52.04"},{"column":"BRL","row":"Ave 2019","text":"3.89"},{"column":"PKR","row":"Ave 2019","text":"148.58"},{"column":"RMB","row":"Ave 2019","text":"6.87"},{"column":"MXN","row":"Ave 2019","text":"19.25"},{"column":"EUR","row":"Ave 2019","text":"1.12"},{"column":"AUD","row":"Ave 2019","text":"0.70"},
{"column":"PHP","row":"Growth","text":"0.87"},{"column":"BRL","row":"Growth","text":"-7.87"},{"column":"PKR","row":"Growth","text":"-26.54"},{"column":"RMB","row":"Growth","text":"-5.28"},{"column":"MXN","row":"Growth","text":"-1.17"},{"column":"EUR","row":"Growth","text":"5.94"},{"column":"AUD","row":"Growth","text":"7.76"}],
"heads":[{"column":"PHP","row":"Currency"},{"column":"BRL","row":"Currency"},{"column":"PKR","row":"Currency"},{"column":"RMB","row":"Currency"},{"column":"MXN","row":"Currency"},{"column":"EUR","row":"Currency"},{"column":"AUD","row":"Currency"}],
"rows":[{"row":"Currency","where":"labels"},{"row":"Ave 2018","where":"labels"},{"row":"Ave 2019","where":"labels"},{"row":"Growth","where":"labels"}]
},
"layer":[
{"data":{"name":"fx"},"transform":[{"fold":["PHP","BRL","PKR","CNY","MXN","EUR","AUD"],"as":["series","index"]},{"filter":"isDefined(datum.index)"}],
"mark":{"type":"line","strokeJoin":"round","strokeCap":"butt","clip":false},
"encoding":{
"x":{"field":"d","type":"temporal","scale":{"type":"utc","domain":["2015-01-01","2019-09-30"],"nice":false},"axis":{"orient":"top","title":null,"format":"%b-%y","tickCount":{"interval":"month","step":2},"labelAngle":270,"labelAlign":"left","labelBaseline":"middle","labelFontSize":24,"labelColor":"#000000","labelPadding":8,"labelOverlap":false,"labelBound":false,"labelFlush":false,"grid":false,"tickSize":7,"tickColor":"#868686","tickWidth":2,"domainColor":"#bfbfbf","domainWidth":2}},
"y":{"field":"index","type":"quantitative","scale":{"domain":[80,200],"reverse":true,"nice":false,"zero":false},"axis":{"title":null,"values":[80,100,120,140,160,180,200],"labelFontSize":24,"labelColor":"#000000","labelPadding":13,"labelOverlap":false,"labelBound":false,"grid":true,"gridColor":"#d9d9d9","gridWidth":2,"tickSize":7,"tickColor":"#868686","tickWidth":2,"domainColor":"#868686","domainWidth":2}},
"color":{"field":"series","type":"nominal","scale":{"domain":["PHP","BRL","PKR","CNY","MXN","EUR","AUD"],"range":["#ed7d31","#00b050","#afabab","#7030a0","#ffc000","#8fbce6","#b00000"]},"legend":{"orient":"none","legendX":418,"legendY":727,"direction":"horizontal","columns":7,"title":null,"symbolType":"stroke","symbolSize":2916,"symbolStrokeWidth":4,"labelFontSize":24,"labelColor":"#000000","labelOffset":11,"gridAlign":"all","columnPadding":102.5,"labelLimit":200}},
"strokeWidth":{"field":"series","type":"nominal","scale":{"domain":["PHP","BRL","PKR","CNY","MXN","EUR","AUD"],"range":[3.8,3.8,3.8,3.8,3.8,5.5,3.8]},"legend":null},
"order":{"field":"d","type":"temporal"}}},
{"data":{"values":[{"label":"January-September"}]},
"encoding":{"x":{"field":"label","type":"nominal","scale":{"type":"band","domain":["January-September"],"range":[680.5,723.5],"paddingInner":0,"paddingOuter":0},"axis":null},"y":{"field":"label","type":"nominal","scale":{"type":"band","domain":["January-September"],"range":[478,711],"paddingInner":0,"paddingOuter":0},"axis":null}},
"layer":[{"mark":{"type":"rect","fill":"#e4e4e4"}},{"mark":{"type":"text","angle":270,"fontWeight":"bold","fontSize":18,"color":"#000000","align":"center","baseline":"middle"},"encoding":{"text":{"field":"label"}}}]},
{"data":{"name":"rows"},
"encoding":{"x":{"field":"where","type":"nominal","bandPosition":0,"scale":{"type":"band","domain":["labels"],"range":[733,837],"paddingInner":0,"paddingOuter":0},"axis":null},"y":{"field":"row","type":"nominal","scale":{"type":"band","domain":["Currency","Ave 2018","Ave 2019","Growth"],"range":[478,711],"paddingInner":0,"paddingOuter":0},"axis":null}},
"layer":[
{"transform":[{"filter":"datum.row!=='Growth'"}],"mark":{"type":"text","align":"left","baseline":"middle","fontWeight":"bold","fontSize":20,"color":"#000000"},"encoding":{"text":{"field":"row"}}},
{"transform":[{"filter":"datum.row==='Growth'"}],"mark":{"type":"text","align":"left","baseline":"middle","fontWeight":"bold","fontSize":18,"color":"#000000"},"encoding":{"text":{"field":"row"}}},
{"transform":[{"filter":"datum.row==='Growth'"},{"calculate":"'(%)'","as":"unit"}],"mark":{"type":"text","align":"left","baseline":"middle","dx":72,"fontSize":18,"color":"#000000"},"encoding":{"text":{"field":"unit"}}}
]},
{"encoding":{"x":{"field":"column","type":"nominal","scale":{"type":"band","domain":["PHP","BRL","PKR","RMB","MXN","EUR","AUD"],"range":[837.5,1625.5],"paddingInner":0,"paddingOuter":0},"axis":null},"y":{"field":"row","type":"nominal","scale":{"type":"band","domain":["Currency","Ave 2018","Ave 2019","Growth"],"range":[478,711],"paddingInner":0,"paddingOuter":0},"axis":null}},
"resolve":{"scale":{"color":"independent"}},
"layer":[
{"data":{"name":"cells"},"mark":{"type":"rect"},"encoding":{"color":{"field":"column","type":"nominal","scale":{"domain":["PHP","BRL","PKR","RMB","MXN","EUR","AUD"],"range":["#ffa066","#80ff88","#e8e4ea","#b5bff2","#fbdc84","#9dedff","#ff9088"]},"legend":null}}},
{"data":{"name":"heads"},"mark":{"type":"rect"},"encoding":{"color":{"field":"column","type":"nominal","scale":{"domain":["PHP","BRL","PKR","RMB","MXN","EUR","AUD"],"range":["#ff6600","#00b400","#aeaaa8","#8e76d0","#ffc000","#7fbcd9","#e00000"]},"legend":null}}},
{"data":{"name":"cells"},"mark":{"type":"text","fontSize":22,"color":"#000000","align":"center","baseline":"middle"},"encoding":{"text":{"field":"text"}}},
{"data":{"name":"heads"},"mark":{"type":"text","fontSize":21,"fontWeight":"bold","color":"#ffffff","align":"left","baseline":"middle","dx":12},"encoding":{"x":{"field":"column","type":"nominal","bandPosition":0},"text":{"field":"column"}}}
]},
{"data":{"name":"heads"},"encoding":{"x":{"field":"column","type":"nominal","bandPosition":0.71,"scale":{"type":"band","domain":["PHP","BRL","PKR","RMB","MXN","EUR","AUD"],"range":[837.5,1625.5],"paddingInner":0,"paddingOuter":0},"axis":null},"y":{"field":"row","type":"nominal","scale":{"type":"band","domain":["Currency","Ave 2018","Ave 2019","Growth"],"range":[478,711],"paddingInner":0,"paddingOuter":0},"axis":null}},
"layer":[
{"mark":{"type":"point","filled":true,"size":756,"opacity":1,"yOffset":-1},"encoding":{"color":{"field":"column","type":"nominal","scale":{"domain":["PHP","BRL","PKR","RMB","MXN","EUR","AUD"],"range":["#3b3f98","#4a8a3a","#2c6b34","#cc1a1a","#ffffff","#1c3fa5","#2b2f6e"]},"legend":null}}},
{"transform":[{"filter":"datum.column==='PHP'"}],"mark":{"type":"arc","innerRadius":0,"outerRadius":13.75,"theta":1.5708,"theta2":4.7124,"fill":"#c2182b","yOffset":-1}},
{"transform":[{"filter":"datum.column==='PHP'"}],"mark":{"type":"point","shape":"triangle-right","filled":true,"size":200,"color":"#ffffff","opacity":1,"xOffset":-7,"yOffset":-1}},
{"transform":[{"filter":"datum.column==='BRL'"}],"mark":{"type":"point","shape":"diamond","filled":true,"size":420,"color":"#f2c40f","opacity":1,"yOffset":-1}},
{"transform":[{"filter":"datum.column==='BRL'"}],"mark":{"type":"point","filled":true,"size":100,"color":"#1f3a7a","opacity":1,"yOffset":-1}},
{"transform":[{"filter":"datum.column==='PKR'"}],"mark":{"type":"point","filled":true,"size":300,"color":"#ffffff","opacity":1,"xOffset":1,"yOffset":-1}},
{"transform":[{"filter":"datum.column==='PKR'"}],"mark":{"type":"point","filled":true,"size":240,"color":"#2c6b34","opacity":1,"xOffset":4,"yOffset":-3}},
{"transform":[{"filter":"datum.column==='RMB'"}],"mark":{"type":"point","shape":"M0,-1L0.24,-0.31L0.95,-0.31L0.38,0.12L0.59,0.81L0,0.38L-0.59,0.81L-0.38,0.12L-0.95,-0.31L-0.24,-0.31Z","filled":true,"size":70,"color":"#ffd800","opacity":1,"xOffset":-6,"yOffset":-7}},
{"transform":[{"filter":"datum.column==='MXN'"}],"mark":{"type":"arc","innerRadius":0,"outerRadius":13.75,"theta":3.1416,"theta2":6.2832,"fill":"#1f7a3f","yOffset":-1}},
{"transform":[{"filter":"datum.column==='MXN'"}],"mark":{"type":"arc","innerRadius":0,"outerRadius":13.75,"theta":0,"theta2":3.1416,"fill":"#c8202f","yOffset":-1}},
{"transform":[{"filter":"datum.column==='MXN'"}],"mark":{"type":"point","shape":"M-0.33,-1H0.33V1H-0.33Z","filled":true,"size":900,"color":"#ffffff","opacity":1,"yOffset":-1}},
{"transform":[{"filter":"datum.column==='MXN'"}],"mark":{"type":"point","filled":true,"size":40,"color":"#8a6a2a","opacity":1,"yOffset":-1}},
{"transform":[{"filter":"datum.column==='EUR'"}],"mark":{"type":"arc","innerRadius":9,"outerRadius":9,"theta":0,"theta2":6.2832,"fill":"transparent","stroke":"#ffd000","strokeWidth":2,"strokeDash":[1.5,3.2],"yOffset":-1}},
{"transform":[{"filter":"datum.column==='AUD'"}],"mark":{"type":"point","shape":"cross","filled":true,"size":150,"color":"#ffffff","opacity":1,"xOffset":3,"yOffset":-7}},
{"transform":[{"filter":"datum.column==='AUD'"}],"mark":{"type":"point","shape":"cross","filled":true,"size":60,"color":"#d0202f","opacity":1,"xOffset":3,"yOffset":-7}},
{"transform":[{"filter":"datum.column==='AUD'"}],"mark":{"type":"point","shape":"M0,-1L0.24,-0.31L0.95,-0.31L0.38,0.12L0.59,0.81L0,0.38L-0.59,0.81L-0.38,0.12L-0.95,-0.31L-0.24,-0.31Z","filled":true,"size":60,"color":"#ffffff","opacity":1,"xOffset":-5,"yOffset":7}}
]}
],
"resolve":{"scale":{"x":"independent","y":"independent","color":"independent","strokeWidth":"independent"}}
}
